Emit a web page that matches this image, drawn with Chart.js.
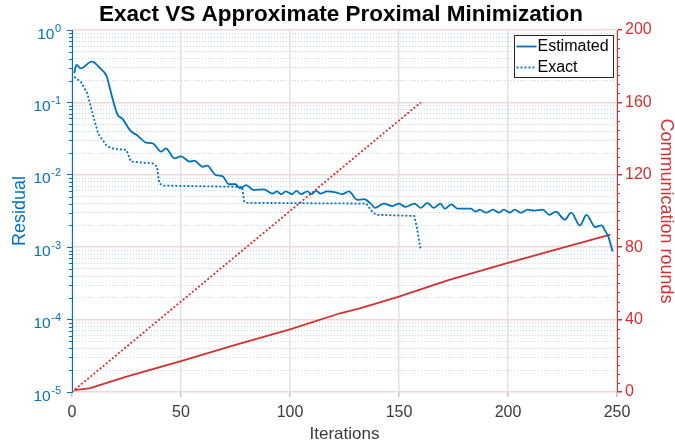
<!DOCTYPE html>
<html>
<head>
<meta charset="utf-8">
<script src="https://cdn.jsdelivr.net/npm/chart.js@4.4.1/dist/chart.umd.min.js"></script>
<style>
  html, body { margin: 0; padding: 0; background: #fff; }
</style>
</head>
<body>
<canvas id="chart" width="675" height="446"></canvas>
<script>
// 数据
const estIter = [1, 2, 4, 9, 13, 16, 17, 19, 21, 23, 27, 30, 34, 37, 41, 43, 47, 50, 54, 56, 60, 62, 66, 69, 72, 75, 77, 80, 83, 88, 92, 94, 96, 98, 101, 103, 105, 108, 110, 112, 114, 117, 121, 124, 127, 131, 134, 137, 139, 143, 147, 150, 153, 157, 160, 163, 166, 169, 171, 174, 177, 183, 185, 187, 190, 193, 196, 198, 201, 203, 206, 209, 212, 216, 219, 222, 226, 229, 233, 236, 240, 243, 244.5, 246, 248];
const estResidual = [0.252, 0.33, 0.295, 0.365, 0.295, 0.226, 0.174, 0.102, 0.067, 0.060, 0.040, 0.035, 0.0278, 0.0272, 0.0209, 0.0232, 0.0169, 0.018, 0.0152, 0.0157, 0.0129, 0.0134, 0.0099, 0.0096, 0.0074, 0.0074, 0.0065, 0.0072, 0.0062, 0.0063, 0.0055, 0.0059, 0.0054, 0.0059, 0.0054, 0.0060, 0.0054, 0.0059, 0.0054, 0.0060, 0.0055, 0.0059, 0.0057, 0.0054, 0.0059, 0.0045, 0.0046, 0.0040, 0.0035, 0.0040, 0.0037, 0.0040, 0.0036, 0.0040, 0.0035, 0.0041, 0.0035, 0.0040, 0.0034, 0.0039, 0.0034, 0.0034, 0.0031, 0.0033, 0.0030, 0.0033, 0.0030, 0.0033, 0.0030, 0.0033, 0.0030, 0.0033, 0.0032, 0.0033, 0.0028, 0.0031, 0.0024, 0.0030, 0.0020, 0.0028, 0.0019, 0.0020, 0.0017, 0.0014, 0.00087];

const exactIter = [1, 4, 7, 9, 12, 16, 19, 25, 27, 37, 39, 40, 42, 78, 79, 80, 135, 138, 140, 157, 158, 160];
const exactResidual = [0.226, 0.193, 0.134, 0.0785, 0.037, 0.025, 0.023, 0.022, 0.0152, 0.0144, 0.013, 0.0076, 0.0071, 0.0068, 0.0043, 0.0041, 0.0040, 0.0030, 0.0028, 0.0027, 0.0020, 0.00091];

const estRoundsIter = [1, 8, 25, 50, 75, 100, 123, 132, 150, 173, 200, 224, 247];
const estRounds = [1, 2, 8.5, 17, 26, 34.6, 43.5, 46.2, 52.7, 61.9, 71.4, 79.4, 87];

const exactRoundsIter = [0, 160];
const exactRounds = [0, 160];

const xTicks = [0, 50, 100, 150, 200, 250];
const leftDecades = [0, -1, -2, -3, -4, -5];
const rightTicks = [0, 40, 80, 120, 160, 200];

const BLUE = "#0072BD";
const RED = "#D62F2F";
const FONT = "'Liberation Sans', Arial, sans-serif";

const pts = (xs, ys) => xs.map((x, i) => ({ x: x, y: ys[i] }));
const isDecade = (v) => Math.abs(Math.log10(v) - Math.round(Math.log10(v))) < 1e-6;
const isRightMajor = (v) => rightTicks.includes(v);

// 标题、左轴上标刻度、短的次刻度、图例
const extras = {
    id: "extras",
    afterDraw(chart) {
        const ctx = chart.ctx;
        const area = chart.chartArea;
        const yl = chart.scales.y;
        const yr = chart.scales.y2;
        ctx.save();

        // 次刻度
        ctx.lineWidth = 1;
        ctx.strokeStyle = BLUE;
        yl.ticks.forEach(t => {
            if (isDecade(t.value)) return;
            const p = Math.round(yl.getPixelForValue(t.value)) + 0.5;
            ctx.beginPath(); ctx.moveTo(area.left - 3, p); ctx.lineTo(area.left, p); ctx.stroke();
        });
        ctx.strokeStyle = RED;
        yr.ticks.forEach(t => {
            if (isRightMajor(t.value)) return;
            const p = Math.round(yr.getPixelForValue(t.value)) + 0.5;
            ctx.beginPath(); ctx.moveTo(area.right, p); ctx.lineTo(area.right + 3, p); ctx.stroke();
        });

        // 左轴 10^n 标签
        ctx.fillStyle = BLUE;
        ctx.textAlign = "right";
        ctx.textBaseline = "alphabetic";
        leftDecades.forEach(e => {
            const p = yl.getPixelForValue(Math.pow(10, e));
            const sup = String(e);
            ctx.font = "11px " + FONT;
            const sw = ctx.measureText(sup).width;
            ctx.fillText(sup, 61, p + 1.5);
            ctx.font = "15.5px " + FONT;
            ctx.fillText("10", 61 - sw - 0.5, p + 8.5);
        });

        // 标题
        ctx.fillStyle = "#000";
        ctx.textAlign = "center";
        ctx.textBaseline = "middle";
        ctx.font = "bold 22.5px " + FONT;
        ctx.fillText("Exact VS Approximate Proximal Minimization", 341, 15);

        // 图例
        const lx = 514.5, ly = 35.5, lw = 99, lh = 42;
        ctx.fillStyle = "#fff";
        ctx.fillRect(lx, ly, lw, lh);
        ctx.strokeStyle = "#262626";
        ctx.lineWidth = 1;
        ctx.strokeRect(lx, ly, lw, lh);
        ctx.font = "16px " + FONT;
        ctx.textAlign = "left";
        ctx.fillStyle = "#000";
        [0, 1].forEach(i => {
            const ds = chart.data.datasets[i];
            const yy = ly + 11 + i * 21;
            ctx.strokeStyle = ds.borderColor;
            ctx.lineWidth = ds.borderWidth;
            ctx.setLineDash(ds.borderDash || []);
            ctx.beginPath(); ctx.moveTo(lx + 2, yy); ctx.lineTo(lx + 22, yy); ctx.stroke();
            ctx.setLineDash([]);
            ctx.fillText(ds.label, lx + 23, yy + 0.5);
        });
        ctx.restore();
    }
};

new Chart(document.getElementById("chart").getContext("2d"), {
    type: "line",
    data: {
        datasets: [
            {
                label: "Estimated",
                data: pts(estIter, estResidual),
                yAxisID: "y",
                borderColor: BLUE,
                borderWidth: 1.8,
                pointRadius: 0,
                cubicInterpolationMode: "monotone"
            },
            {
                label: "Exact",
                data: pts(exactIter, exactResidual),
                yAxisID: "y",
                borderColor: BLUE,
                borderWidth: 1.8,
                borderDash: [2, 2],
                pointRadius: 0,
                tension: 0
            },
            {
                label: "Rounds (estimated)",
                data: pts(estRoundsIter, estRounds),
                yAxisID: "y2",
                borderColor: RED,
                borderWidth: 1.8,
                pointRadius: 0,
                tension: 0
            },
            {
                label: "Rounds (exact)",
                data: pts(exactRoundsIter, exactRounds),
                yAxisID: "y2",
                borderColor: RED,
                borderWidth: 1.8,
                borderDash: [2, 2],
                pointRadius: 0,
                tension: 0
            }
        ]
    },
    options: {
        responsive: false,
        animation: false,
        devicePixelRatio: 1,
        layout: { padding: { top: 30, left: 0, right: 0, bottom: 0 } },
        plugins: { legend: { display: false }, tooltip: { enabled: false } },
        scales: {
            x: {
                type: "linear",
                min: 0,
                max: 250,
                afterBuildTicks: (s) => { s.ticks = xTicks.map(v => ({ value: v })); },
                afterFit: (s) => { s.height = 54; },
                grid: { color: "#e2e2e2", lineWidth: 1.5, tickLength: 5, tickColor: "#c4c4c4" },
                border: { display: false },
                ticks: { color: "#3a3a3a", font: { family: FONT, size: 16 }, padding: 6, maxRotation: 0 },
                title: { display: true, text: "Iterations", color: "#3a3a3a", font: { family: FONT, size: 17, lineHeight: 1 }, padding: { bottom: 3, top: 0 } }
            },
            y: {
                type: "logarithmic",
                position: "left",
                min: 1e-5,
                max: 1,
                afterBuildTicks: (s) => {
                    const t = [];
                    leftDecades.slice().reverse().forEach(e => {
                        if (e === 0) { t.push({ value: 1, major: true }); return; }
                        for (let k = 1; k <= 9; k++) t.push({ value: k * Math.pow(10, e), major: k === 1 });
                    });
                    s.ticks = t;
                },
                afterFit: (s) => { s.width = 72; },
                ticks: { display: false, autoSkip: false },
                grid: {
                    color: (c) => (c.tick && !isDecade(c.tick.value)) ? "#bcd6ec" : "rgba(0,0,0,0)",
                    lineWidth: 1,
                    tickLength: 5,
                    tickColor: (c) => (c.tick && isDecade(c.tick.value)) ? BLUE : "rgba(0,0,0,0)"
                },
                border: {
                    display: true,
                    color: BLUE,
                    width: 1,
                    dash: (c) => (c.tick && !isDecade(c.tick.value)) ? [1, 2] : []
                },
                title: { display: true, text: "Residual", color: BLUE, font: { family: FONT, size: 18, lineHeight: 1 }, padding: { top: 11 } }
            },
            y2: {
                type: "linear",
                position: "right",
                min: 0,
                max: 200,
                afterBuildTicks: (s) => {
                    const t = [];
                    for (let v = 0; v <= 200; v += 5) t.push({ value: v });
                    s.ticks = t;
                },
                afterFit: (s) => { s.width = 58; },
                ticks: {
                    autoSkip: false,
                    color: RED,
                    font: { family: FONT, size: 16 },
                    padding: 3,
                    callback: (v) => isRightMajor(v) ? String(v) : ""
                },
                grid: {
                    color: (c) => (c.tick && isRightMajor(c.tick.value)) ? "#f0d6d6" : "rgba(0,0,0,0)",
                    lineWidth: 1.5,
                    tickLength: 5,
                    tickColor: (c) => (c.tick && isRightMajor(c.tick.value)) ? RED : "rgba(0,0,0,0)"
                },
                border: { display: true, color: RED, width: 1 },
                title: { display: true, text: "Communication rounds", color: RED, font: { family: FONT, size: 18, lineHeight: 1 }, padding: { top: 0 } }
            }
        }
    },
    plugins: [extras]
});
</script>
</body>
</html>
